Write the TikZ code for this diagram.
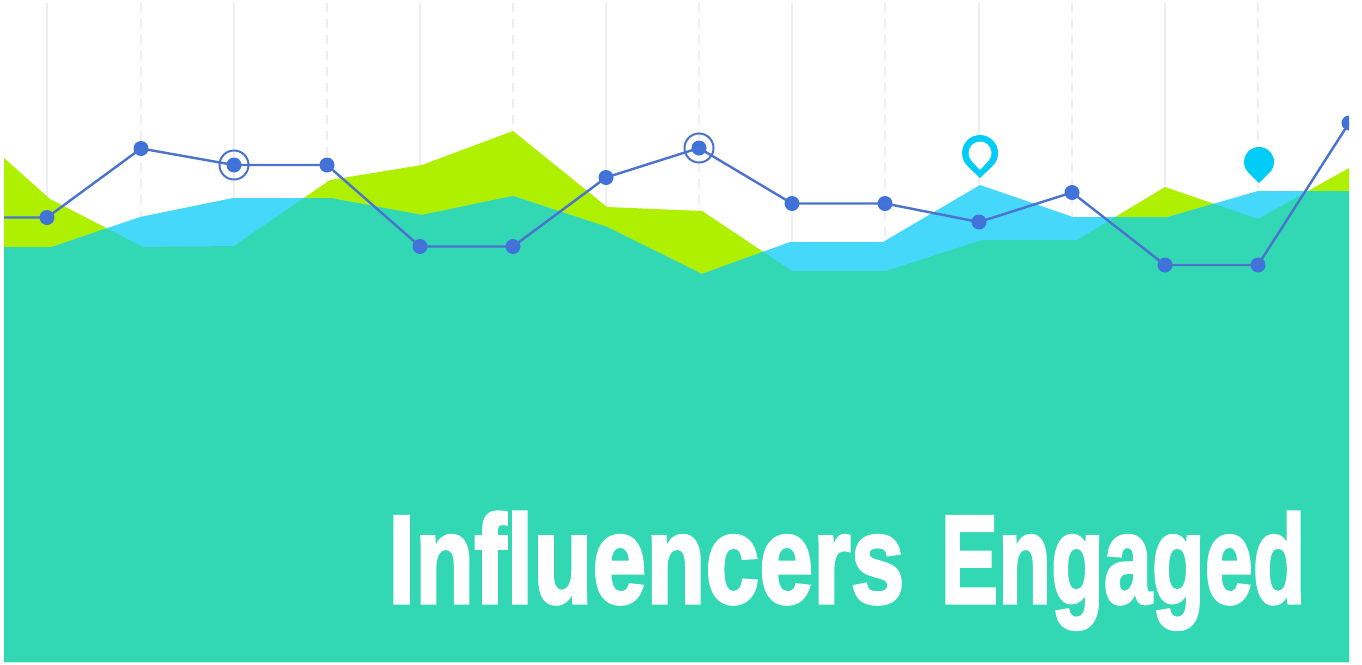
\documentclass[tikz,border=0pt]{standalone}
\usepackage{graphicx}
\usepackage{fontspec}
\newfontfamily\titlefont[FakeBold=2.5,Ligatures=NoCommon]{Liberation Sans Bold}
\definecolor{limec}{HTML}{AEF000}
\definecolor{cyanc}{HTML}{45D8FB}
\definecolor{tealc}{HTML}{32D8B4}
\definecolor{linec}{HTML}{4A72CE}
\definecolor{dotc}{HTML}{3F73DC}
\definecolor{pinc}{HTML}{00CCF8}
\definecolor{gridc}{HTML}{EEEEF2}
\tikzset{
  griddash/.style={draw=gridc,line width=2.4pt,dash pattern=on 9pt off 7pt},
  gridsolid/.style={draw=gridc,line width=2.4pt},
  dot/.style={circle,fill=dotc,inner sep=0pt,minimum size=15pt},
  ring/.style={circle,draw=linec,line width=2pt,inner sep=0pt,minimum size=29pt},
  series/.style={draw=linec,line width=2.4pt},
  titletext/.style={anchor=base west,inner sep=0pt,text=white}
}
\def\limepath{(4,158)--(50,199)--(143,247)--(234,246)--(330,180)--(422,165)--(513,131)--(607,207)--(702,211)--(792,271)--(886,271)--(982,240)--(1077,240)--(1165,187)--(1258,219)--(1349,168)--(1349,662)--(4,662)--cycle}
\def\cyanpath{(4,247)--(52,247)--(140,217)--(233,198)--(330,198)--(422,215)--(513,196)--(607,227)--(702,274)--(790,242)--(883,242)--(980,185)--(1073,217)--(1168,217)--(1258,191)--(1349,191)--(1349,662)--(4,662)--cycle}
\begin{document}
\begin{tikzpicture}[x=1pt,y=-1pt]
\useasboundingbox (0,0) rectangle (1362,664);
\fill[white] (0,0) rectangle (1362,664);
% grid
\foreach \gx in {47,234,420,606,792,979,1165}
  \draw[gridsolid] (\gx,3) -- (\gx,246);
\foreach \gx in {141,327,513,699,885,1072,1258}
  \draw[griddash] (\gx,3) -- (\gx,246);
% areas
\fill[limec] \limepath;
\fill[cyanc] \cyanpath;
\begin{scope}
  \clip \limepath;
  \fill[tealc] \cyanpath;
\end{scope}
% pins
\fill[pinc] (980,178)--(992.5,166) arc[start angle=46,end angle=-226,radius=18]--cycle;
\fill[white] (980,170)--(988.5,160.8) arc[start angle=42.5,end angle=-222.5,radius=11.5]--cycle;
\fill[pinc] (1259,183)--(1269.5,172.7) arc[start angle=45.6,end angle=-225.6,radius=15]--cycle;
% series
\begin{scope}
\clip (4,0) rectangle (1349,664);
\node[coordinate] (p0) at (4,217.5) {};
\node[dot] (p1) at (47,217.5) {};
\node[dot] (p2) at (141,148.5) {};
\node[dot] (p3) at (234,165) {};
\node[dot] (p4) at (327,165) {};
\node[dot] (p5) at (420,246.5) {};
\node[dot] (p6) at (513,246.5) {};
\node[dot] (p7) at (606,177.5) {};
\node[dot] (p8) at (699,148) {};
\node[dot] (p9) at (792,203.5) {};
\node[dot] (p10) at (885,203.5) {};
\node[dot] (p11) at (979,222) {};
\node[dot] (p12) at (1072,192.5) {};
\node[dot] (p13) at (1165,265) {};
\node[dot] (p14) at (1258,265) {};
\node[dot] (p15) at (1349,123) {};
\node[ring] (r1) at (p3) {};
\node[ring] (r2) at (p8) {};
\draw[series] (p0.center)--(p1.center)--(p2.center)--(p3.center)--(p4.center)--(p5.center)--(p6.center)--(p7.center)--(p8.center)--(p9.center)--(p10.center)--(p11.center)--(p12.center)--(p13.center)--(p14.center)--(p15.center);
\end{scope}
% title
\node[titletext] (title) at (388,603) {\titlefont\resizebox{516pt}{91pt}{Influencers}\hspace{36pt}\resizebox{365pt}{91pt}{Engaged}};
\end{tikzpicture}
\end{document}
